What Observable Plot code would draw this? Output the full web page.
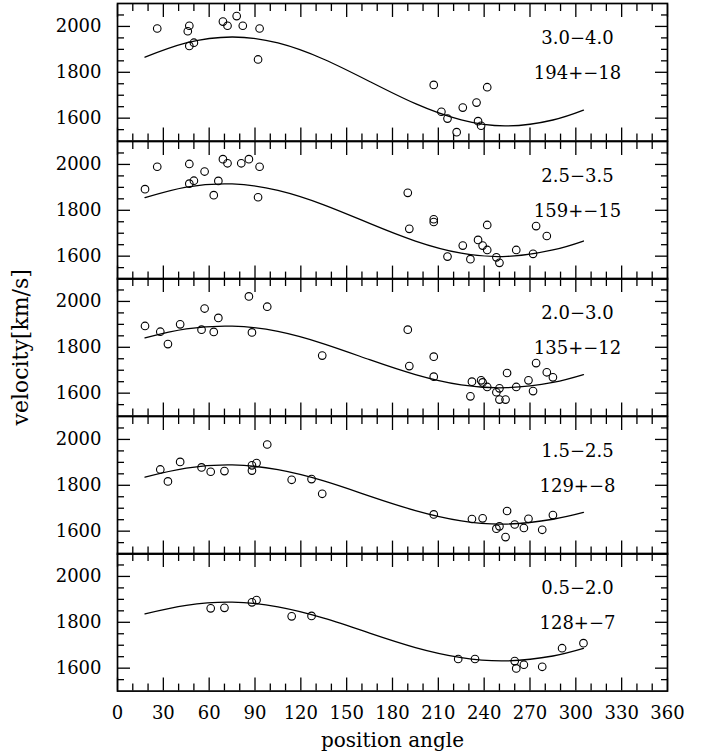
<!DOCTYPE html>
<html><head><meta charset="utf-8">
<script src="https://cdn.jsdelivr.net/npm/d3@7"></script>
<script src="https://cdn.jsdelivr.net/npm/@observablehq/plot@0.6"></script>
<style>
body{margin:0;background:#fff;}
#wrap{position:relative;width:714px;height:754px;}
#wrap svg{position:absolute;left:0;}
</style></head><body><div id="wrap"></div>
<script>
const rangeLabels = ["3.0−4.0","2.5−3.5","2.0−3.0","1.5−2.5","0.5−2.0"];
const fitLabels = ["194+−18","159+−15","135+−12","129+−8","128+−7"];

const angle1 = [26,47,46,47,50,69,72,78,82,93,92,207,212,216,222,226,235,242,236,238];
const vel1   = [1991,2003,1979,1915,1929,2021,2003,2045,2003,1991,1856,1745,1628,1598,1539,1646,1668,1735,1587,1567];

const angle2 = [18,26,47,47,50,57,63,66,69,72,81,86,93,92,190,191,207,207,216,226,231,236,239,242,242,248,250,261,272,274,281];
const vel2   = [1892,1990,2002,1916,1929,1969,1866,1928,2023,2005,2005,2023,1990,1857,1876,1719,1761,1749,1598,1646,1587,1671,1646,1736,1627,1595,1571,1627,1610,1731,1688];

const angle3 = [18,28,33,41,55,57,63,66,86,88,98,134,190,191,207,207,231,232,238,239,242,248,250,250,254,255,261,269,272,274,281,285];
const vel3   = [1893,1868,1814,1900,1877,1969,1867,1928,2022,1865,1977,1764,1877,1718,1759,1672,1586,1650,1656,1647,1627,1604,1621,1572,1572,1688,1627,1656,1609,1731,1691,1669];

const angle4 = [28,33,41,55,61,70,88,88,91,98,114,127,134,207,232,239,248,250,254,255,260,266,269,278,285];
const vel4   = [1869,1817,1902,1878,1859,1862,1864,1887,1897,1978,1824,1827,1763,1673,1653,1656,1611,1621,1574,1688,1629,1614,1654,1606,1670];

const angle5 = [61,70,88,91,114,127,223,234,260,261,266,278,291,305];
const vel5   = [1861,1863,1887,1897,1826,1828,1640,1640,1631,1599,1615,1606,1687,1709];

const curveAngle = [18,45,75,105,135,165,195,225,255,285,305];
const curve1 = [1866,1928,1954,1928,1857,1760,1663,1592,1566,1592,1635];
const curve2 = [1855,1901,1915,1887,1824,1743,1666,1613,1599,1627,1666];
const curve3 = [1841,1880,1892,1869,1815,1746,1681,1636,1624,1647,1681];
const curve4 = [1836,1875,1889,1868,1819,1753,1690,1645,1631,1652,1682];
const curve5 = [1837,1874,1888,1867,1818,1753,1690,1646,1632,1653,1686];

const xLabelTicks = [0,30,60,90,120,150,180,210,240,270,300,330,360];
const xMinorTicks = [10,20,40,50,70,80,100,110,130,140,160,170,190,200,220,230,250,260,280,290,310,320,340,350];
const yLabelTicks = [1600,1800,2000];
const yMinorTicks = [1550,1650,1700,1750,1850,1900,1950,2050];

const angles = [angle1,angle2,angle3,angle4,angle5];
const vels = [vel1,vel2,vel3,vel4,vel5];
const curves = [curve1,curve2,curve3,curve4,curve5];

const FONT = '"DejaVu Serif", serif';
const panelH = 137.6, top0 = 3;
const wrap = document.getElementById("wrap");
const MAJ = 13, MIN = 7;

for (let k = 0; k < 5; k++) {
  const isLast = k === 4;
  const mt = 2, mb = isLast ? 62 : 2;
  const pts = angles[k].map((a, i) => ({a, v: vels[k][i]}));
  const crv = curveAngle.map((a, i) => ({a, v: curves[k][i]}));
  const tickOpts = {fill: "none", label: null, strokeWidth: 1.3};
  const marks = [
    Plot.frame({stroke: "black", strokeWidth: 1.7}),
    Plot.axisX(xLabelTicks, {anchor: "bottom", tickSize: -MAJ, ...tickOpts}),
    Plot.axisX(xMinorTicks, {anchor: "bottom", tickSize: -MIN, ...tickOpts}),
    Plot.axisX(xLabelTicks, {anchor: "top", tickSize: -MAJ, ...tickOpts}),
    Plot.axisX(xMinorTicks, {anchor: "top", tickSize: -MIN, ...tickOpts}),
    Plot.axisY(yLabelTicks, {anchor: "left", tickSize: -MAJ, ...tickOpts}),
    Plot.axisY(yMinorTicks, {anchor: "left", tickSize: -MIN, ...tickOpts}),
    Plot.axisY(yLabelTicks, {anchor: "right", tickSize: -MAJ, ...tickOpts}),
    Plot.axisY(yMinorTicks, {anchor: "right", tickSize: -MIN, ...tickOpts}),
    Plot.axisY(yLabelTicks, {anchor: "left", tickSize: 0, tickPadding: 16, label: null, fontSize: 18, tickFormat: d => String(d)}),
    Plot.line(crv, {x: "a", y: "v", curve: "natural", stroke: "black", strokeWidth: 1.3}),
    Plot.dot(pts, {x: "a", y: "v", r: 3.8, stroke: "black", fill: "none", strokeWidth: 1.1}),
    Plot.text([rangeLabels[k]], {text: d => d, frameAnchor: "top-right", dx: -90, dy: 35, textAnchor: "middle", lineAnchor: "middle", fontSize: 18, letterSpacing: 0.7}),
    Plot.text([fitLabels[k]], {text: d => d, frameAnchor: "top-right", dx: -90, dy: 70, textAnchor: "middle", lineAnchor: "middle", fontSize: 18, letterSpacing: 1.2})
  ];
  if (isLast) {
    marks.push(Plot.axisX(xLabelTicks, {anchor: "bottom", tickSize: 0, tickPadding: 15, label: null, fontSize: 18, letterSpacing: 1, tickFormat: d => String(d)}));
    marks.push(Plot.text(["position angle"], {text: d => d, frameAnchor: "bottom", dy: 49, lineAnchor: "middle", fontSize: 20, letterSpacing: 2}));
  }
  if (k === 2) {
    marks.push(Plot.text(["velocity[km/s]"], {text: d => d, frameAnchor: "left", dx: -97, rotate: -90, textAnchor: "middle", lineAnchor: "middle", fontSize: 22, letterSpacing: 3.5}));
  }
  const svg = Plot.plot({
    width: 714, height: panelH + mt + mb,
    marginLeft: 117, marginRight: 47, marginTop: mt, marginBottom: mb,
    style: {fontFamily: FONT, background: "none", overflow: "visible", color: "black"},
    x: {domain: [0, 360], axis: null},
    y: {domain: [1500, 2100], axis: null},
    marks
  });
  svg.style.top = (top0 + k * panelH - mt) + "px";
  wrap.appendChild(svg);
}
</script></body></html>
